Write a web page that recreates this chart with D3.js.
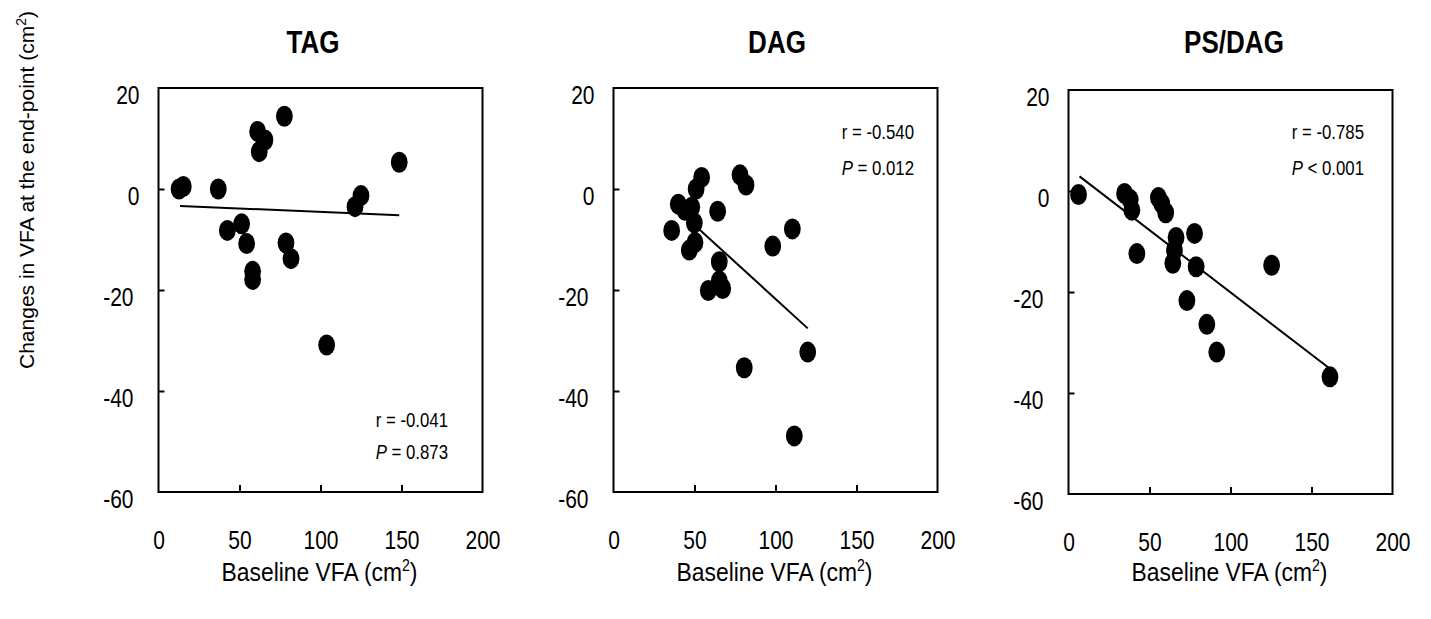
<!DOCTYPE html>
<html>
<head>
<meta charset="utf-8">
<script src="https://cdn.jsdelivr.net/npm/d3@7"></script>
<style>
  html, body { margin: 0; padding: 0; background: #fff; }
  svg { display: block; }
  text { font-family: "Liberation Sans", Arial, sans-serif; fill: #000; }
</style>
</head>
<body>
<svg id="chart" width="1431" height="619"></svg>
<script>
// ---------------- data ----------------
const panelTitles = ["TAG", "DAG", "PS/DAG"];

const tagX = [12.7, 15.3, 36.9, 61.2, 65.7, 62.2, 77.7, 148.6, 125.0, 121.3, 42.5, 51.3, 54.4, 58.1, 58.1, 78.7, 81.8, 103.8];
const tagY = [0.0, 0.5, 0.0, 11.4, 9.7, 7.4, 14.4, 5.3, -1.3, -3.5, -8.2, -6.9, -10.8, -16.3, -17.9, -10.7, -13.8, -30.9];

const dagX = [54.4, 51.0, 40.0, 44.1, 48.3, 49.9, 35.9, 50.3, 46.8, 64.3, 65.3, 65.3, 67.4, 58.5, 78.1, 81.8, 110.4, 98.3, 80.7, 119.9, 111.6];
const dagY = [2.3, 0.0, -3.0, -4.2, -3.6, -6.7, -8.2, -10.6, -12.1, -4.4, -14.4, -18.2, -19.7, -20.1, 2.8, 0.8, -7.9, -11.3, -35.4, -32.3, -48.9];

const psX = [6.2, 34.6, 38.1, 39.1, 42.2, 55.5, 57.6, 60.0, 66.4, 65.4, 64.4, 77.8, 78.8, 73.1, 85.4, 91.5, 125.4, 161.4];
const psY = [-0.7, -0.5, -1.7, -3.8, -12.4, -1.3, -2.5, -4.3, -9.2, -11.7, -14.3, -8.4, -15.0, -21.7, -26.4, -31.9, -14.7, -36.8];

// regression line endpoints [x1, y1, x2, y2]
const tagFit = [13.3, -3.35, 148.6, -5.2];
const dagFit = [53.0, -8.0, 119.9, -27.6];
const psFit  = [6.8, 2.9, 161.4, -35.2];

const rLabels = ["r = -0.041", "r = -0.540", "r = -0.785"];
const pOps    = [" = ", " = ", " < "];
const pValues = ["0.873", "0.012", "0.001"];

const xTicks = [0, 50, 100, 150, 200];
const yTicks = [20, 0, -20, -40, -60];
const xLabel = "Baseline VFA (cm";
const yLabel = "Changes in VFA at the end-point (cm";

// ---------------- layout ----------------
const svg = d3.select("#chart");
const panelLeft = [158.5, 613.5, 1068.5];
const panelTop = [88, 88, 90];
const pw = 324, ph = 404;
const titleX = [313, 777, 1234];
const annRight = [289.5, 300.5, 295.5];
const annBase = [[339, 370.5], [50.5, 87], [49, 85]];

// condensed text helper (emulates a narrow face by horizontal scaling)
function ctext(parent, x, y, sx, size) {
  return parent.append("text")
    .attr("transform", `translate(${x},${y}) scale(${sx},1)`)
    .attr("font-size", size);
}

const datasets = [
  {x: tagX, y: tagY, fit: tagFit},
  {x: dagX, y: dagY, fit: dagFit},
  {x: psX, y: psY, fit: psFit}
];

datasets.forEach((ds, i) => {
  const g = svg.append("g").attr("transform", `translate(${panelLeft[i]},${panelTop[i]})`);
  const x = d3.scaleLinear().domain([0, 200]).range([0, pw]);
  const y = d3.scaleLinear().domain([-60, 20]).range([ph, 0]);

  // frame
  g.append("rect").attr("x", 0).attr("y", 0).attr("width", pw).attr("height", ph)
    .attr("fill", "none").attr("stroke", "#000").attr("stroke-width", 2);

  // x axis (inward ticks)
  const xa = g.append("g").attr("transform", `translate(0,${ph})`)
    .call(d3.axisBottom(x).tickValues(xTicks).tickSize(-7).tickPadding(39).tickFormat(d => String(d)));
  xa.select(".domain").remove();
  xa.selectAll("line").attr("stroke", "#000").attr("stroke-width", 2)
    .filter(d => d === 0 || d === 200).remove();
  xa.selectAll("text").attr("font-size", 25).attr("font-family", null)
    .attr("transform", "scale(0.84,1)");

  // y axis (inward ticks)
  const ya = g.append("g")
    .call(d3.axisLeft(y).tickValues(yTicks).tickSize(-6).tickPadding(20).tickFormat(d => String(d)));
  ya.select(".domain").remove();
  ya.selectAll("line").attr("stroke", "#000").attr("stroke-width", 2)
    .filter(d => d === 20 || d === -60).remove();
  ya.selectAll("text").attr("font-size", 25).attr("font-family", null)
    .attr("x", 0).attr("dy", "0.6em")
    .attr("transform", d => `translate(${d < 0 ? -25 : -19},0) scale(0.84,1)`);

  // points
  g.append("g").selectAll("ellipse").data(ds.x.map((v, k) => [v, ds.y[k]])).join("ellipse")
    .attr("cx", d => x(d[0])).attr("cy", d => y(d[1]))
    .attr("rx", 8.4).attr("ry", 10.5).attr("fill", "#000");

  // regression line
  g.append("line")
    .attr("x1", x(ds.fit[0])).attr("y1", y(ds.fit[1]))
    .attr("x2", x(ds.fit[2])).attr("y2", y(ds.fit[3]))
    .attr("stroke", "#000").attr("stroke-width", 2);

  // annotations
  ctext(g, annRight[i], annBase[i][0], 0.8, 21).attr("text-anchor", "end").text(rLabels[i]);
  const pt = ctext(g, annRight[i], annBase[i][1], 0.8, 21).attr("text-anchor", "end");
  pt.append("tspan").attr("font-style", "italic").text("P");
  pt.append("tspan").text(pOps[i] + pValues[i]);

  // title
  ctext(svg, titleX[i], 53, 0.84, 31).attr("font-weight", "bold")
    .attr("text-anchor", "middle").text(panelTitles[i]);

  // x label
  const xl = ctext(svg, panelLeft[i] + pw / 2 - 1, 581, 0.88, 26).attr("text-anchor", "middle");
  xl.append("tspan").text(xLabel);
  xl.append("tspan").attr("font-size", 16).attr("dy", -10).text("2");
  xl.append("tspan").attr("dy", 10).text(")");
});

// y label
const yl = svg.append("text").attr("font-size", 21)
  .attr("transform", "translate(34,190) rotate(-90)").attr("text-anchor", "middle");
yl.append("tspan").text(yLabel);
yl.append("tspan").attr("font-size", 14).attr("dy", -8).text("2");
yl.append("tspan").attr("dy", 8).text(")");
</script>
</body>
</html>
